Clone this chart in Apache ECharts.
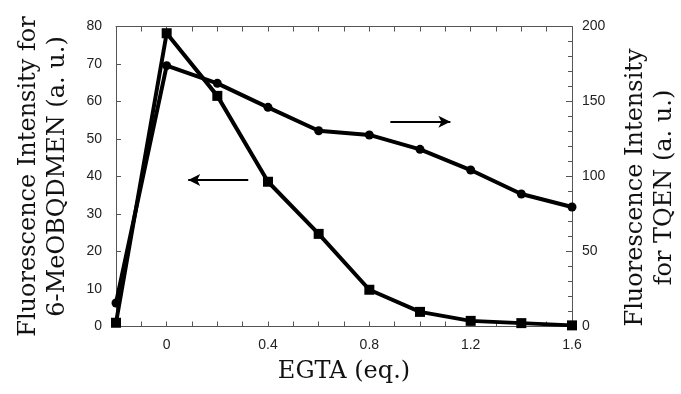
<!DOCTYPE html>
<html><head><meta charset="utf-8">
<script src="https://cdn.jsdelivr.net/npm/echarts@6/dist/echarts.min.js"></script>
<style>html,body{margin:0;padding:0;background:#fff}#c{width:681px;height:394px}</style>
</head><body><div id="c"></div>
<script>
const egta = [-0.2, 0, 0.2, 0.4, 0.6, 0.8, 1.0, 1.2, 1.4, 1.6];
const meobqdmen = [1.0, 78.2, 61.5, 38.6, 24.7, 9.8, 3.9, 1.5, 0.9, 0.3];
const tqen = [15.7, 173.9, 162.1, 146.1, 130.5, 127.7, 118.1, 104.3, 88.3, 79.7];
const xLabels = [0, 0.4, 0.8, 1.2, 1.6];
const leftArrow = [[0.322, 39.1], [0.085, 39.1]];
const rightArrow = [[0.883, 136.5], [1.12, 136.5]];

const chart = echarts.init(document.getElementById('c'));
const axisCol = '#555';
const tickFont = {fontFamily: 'Liberation Sans', fontSize: 14, color: '#222'};
const titleFont = {fontFamily: 'DejaVu Serif', fontSize: 24, color: '#111', lineHeight: 29};
chart.setOption({
  animation: false,
  grid: {left: 116, right: 109, top: 26.5, bottom: 67.5, outerBoundsMode: 'none', containLabel: false},
  xAxis: [{
    type: 'value', min: -0.2, max: 1.6, interval: 0.1,
    name: 'EGTA (eq.)', nameLocation: 'middle', nameGap: 30,
    nameTextStyle: titleFont,
    axisLine: {onZero: false, lineStyle: {color: axisCol, width: 1}},
    axisTick: {inside: true, length: 5, lineStyle: {color: axisCol}},
    axisLabel: Object.assign({margin: 12, formatter: v => {
      const hit = xLabels.find(l => Math.abs(l - v) < 1e-6);
      return hit === undefined ? '' : String(hit);
    }}, tickFont),
    splitLine: {show: false}
  }, {
    type: 'value', position: 'top', min: -0.2, max: 1.6, interval: 0.1,
    axisLine: {show: true, onZero: false, lineStyle: {color: axisCol}},
    axisTick: {inside: true, length: 5, lineStyle: {color: axisCol}},
    axisLabel: {show: false}, splitLine: {show: false}
  }],
  yAxis: [{
    type: 'value', min: 0, max: 80, interval: 10, position: 'left',
    name: 'Fluorescence Intensity for\n6-MeOBQDMEN (a. u.)', nameLocation: 'middle', nameGap: 44, nameRotate: 90,
    nameTextStyle: titleFont,
    axisLine: {show: true, onZero: false, lineStyle: {color: axisCol}},
    axisTick: {inside: true, length: 5, lineStyle: {color: axisCol}},
    axisLabel: Object.assign({margin: 14}, tickFont),
    splitLine: {show: false}
  }, {
    type: 'value', min: 0, max: 200, interval: 50, position: 'right',
    name: 'Fluorescence Intensity\nfor TQEN (a. u.)', nameLocation: 'middle', nameGap: 49, nameRotate: 90,
    nameTextStyle: Object.assign({padding: [0, 22, 0, 0]}, titleFont),
    axisLine: {show: true, onZero: false, lineStyle: {color: axisCol}},
    axisTick: {inside: true, length: 6, lineStyle: {color: axisCol}},
    minorTick: {show: true, splitNumber: 5, length: 4, lineStyle: {color: axisCol}},
    axisLabel: Object.assign({margin: 10}, tickFont),
    splitLine: {show: false}
  }],
  series: [{
    type: 'line', xAxisIndex: 0, yAxisIndex: 0,
    data: egta.map((x, i) => [x, meobqdmen[i]]),
    symbol: 'rect', symbolSize: 10, showAllSymbol: true,
    lineStyle: {color: '#000', width: 4}, itemStyle: {color: '#000'},
    markLine: {silent: true, symbol: ['none', 'arrow'], symbolSize: [9, 12],
      lineStyle: {color: '#000', width: 2, type: 'solid'}, label: {show: false},
      data: [[{coord: leftArrow[0]}, {coord: leftArrow[1]}]]}
  }, {
    type: 'line', xAxisIndex: 0, yAxisIndex: 1,
    data: egta.map((x, i) => [x, tqen[i]]),
    symbol: 'circle', symbolSize: 9, showAllSymbol: true,
    lineStyle: {color: '#000', width: 4}, itemStyle: {color: '#000'},
    markLine: {silent: true, symbol: ['none', 'arrow'], symbolSize: [9, 12],
      lineStyle: {color: '#000', width: 2, type: 'solid'}, label: {show: false},
      data: [[{coord: rightArrow[0]}, {coord: rightArrow[1]}]]}
  }]
});
</script></body></html>
